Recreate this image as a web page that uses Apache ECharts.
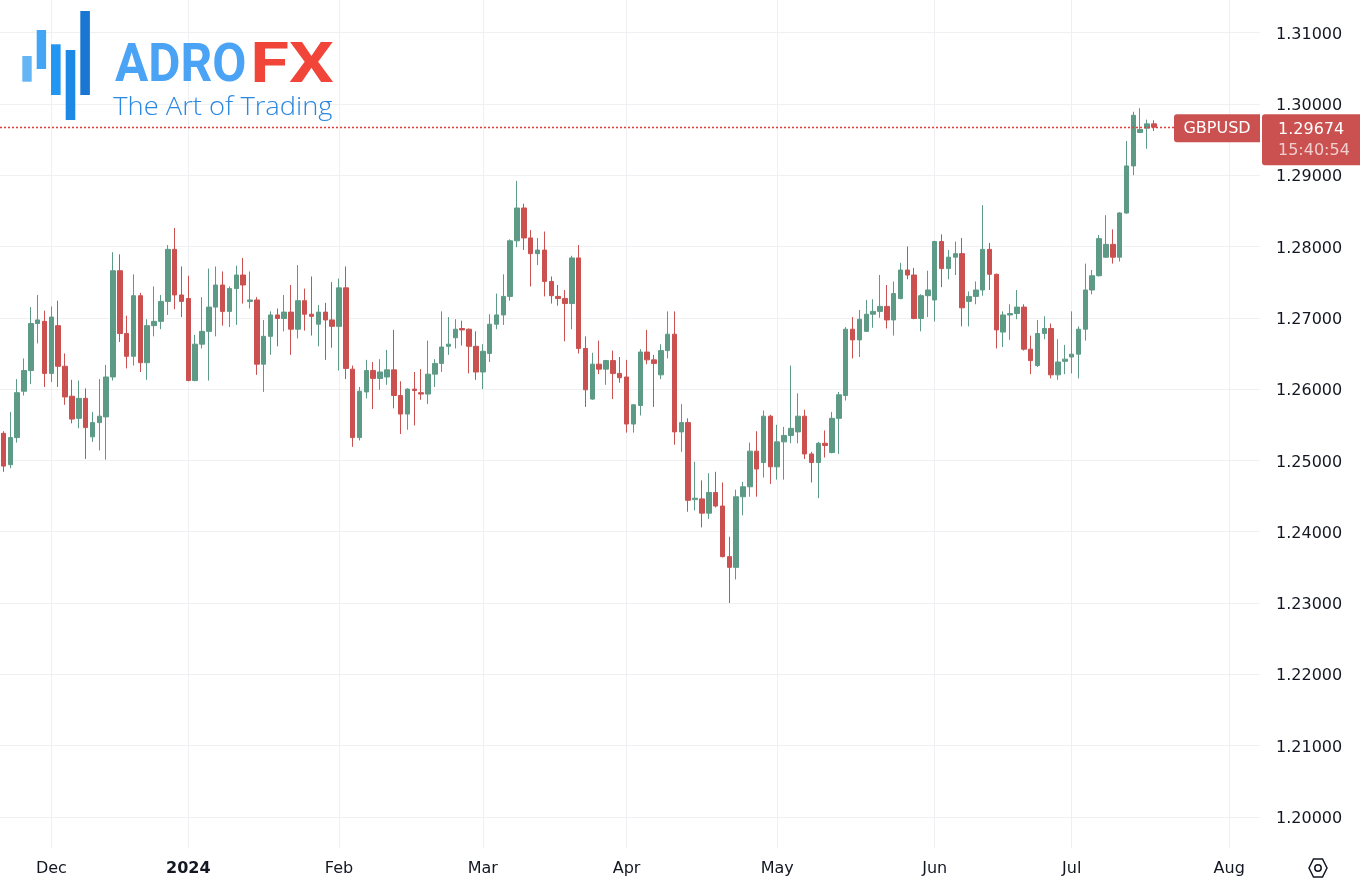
<!DOCTYPE html>
<html>
<head>
<meta charset="utf-8">
<script src="https://cdn.jsdelivr.net/npm/echarts@6/dist/echarts.min.js"></script>
<style>
html,body{margin:0;padding:0;background:#ffffff;}
#chart{width:1360px;height:888px;}
</style>
</head>
<body>
<div id="chart"></div>
<script>
// ---------- DATA (GBPUSD daily) ----------
const firstDate = '2023-11-22';
const holidays = ['2023-12-25', '2024-01-01'];
const slotCount = 184; // trading-day slots on the time axis (incl. empty future)
const monthNames = ['Jan','Feb','Mar','Apr','May','Jun','Jul','Aug','Sep','Oct','Nov','Dec'];

const opens = [
1.2538,1.2494,1.2532,1.2597,1.2626,1.2692,1.2695,1.2622,1.2689,1.2632,
1.2590,1.2559,1.2587,1.2533,1.2553,1.2561,1.2617,1.2766,1.2678,1.2646,
1.2731,1.2637,1.2689,1.2695,1.2723,1.2796,1.2732,1.2727,1.2612,1.2663,
1.2681,1.2715,1.2746,1.2709,1.2741,1.2760,1.2723,1.2725,1.2635,1.2674,
1.2704,1.2699,1.2708,1.2684,1.2724,1.2705,1.2691,1.2708,1.2697,1.2688,
1.2742,1.2628,1.2532,1.2596,1.2626,1.2615,1.2617,1.2627,1.2591,1.2565,
1.2600,1.2595,1.2593,1.2621,1.2636,1.2660,1.2672,1.2685,1.2684,1.2660,
1.2624,1.2650,1.2691,1.2704,1.2730,1.2808,1.2854,1.2812,1.2790,1.2795,
1.2751,1.2730,1.2727,1.2720,1.2784,1.2657,1.2586,1.2635,1.2628,1.2640,
1.2622,1.2617,1.2551,1.2577,1.2652,1.2641,1.2620,1.2654,1.2677,1.2540,
1.2553,1.2445,1.2446,1.2426,1.2455,1.2436,1.2365,1.2350,1.2449,1.2463,
1.2513,1.2497,1.2562,1.2491,1.2526,1.2535,1.2540,1.2562,1.2509,1.2497,
1.2524,1.2511,1.2559,1.2591,1.2684,1.2669,1.2681,1.2705,1.2709,1.2716,
1.2697,1.2727,1.2767,1.2760,1.2699,1.2731,1.2725,1.2807,1.2769,1.2785,
1.2790,1.2723,1.2730,1.2739,1.2796,1.2761,1.2680,1.2704,1.2706,1.2715,
1.2656,1.2633,1.2678,1.2685,1.2620,1.2639,1.2645,1.2649,1.2684,1.2739,
1.2759,1.2785,1.2803,1.2785,1.2847,1.2913,1.2960,1.2966,1.2972
];
const highs = [
1.2541,1.2568,1.2614,1.2643,1.2715,1.2732,1.2710,1.2716,1.2724,1.2650,
1.2613,1.2612,1.2601,1.2568,1.2614,1.2634,1.2792,1.2789,1.2703,1.2761,
1.2735,1.2698,1.2744,1.2732,1.2802,1.2826,1.2772,1.2759,1.2676,1.2729,
1.2769,1.2772,1.2765,1.2744,1.2773,1.2784,1.2765,1.2729,1.2697,1.2709,
1.2713,1.2732,1.2746,1.2774,1.2741,1.2758,1.2718,1.2721,1.2750,1.2755,
1.2772,1.2633,1.2603,1.2641,1.2638,1.2642,1.2655,1.2683,1.2611,1.2601,
1.2624,1.2628,1.2668,1.2642,1.2709,1.2701,1.2698,1.2696,1.2685,1.2681,
1.2663,1.2705,1.2734,1.2761,1.2810,1.2892,1.2860,1.2823,1.2812,1.2821,
1.2758,1.2746,1.2739,1.2787,1.2802,1.2674,1.2651,1.2668,1.2641,1.2654,
1.2645,1.2641,1.2579,1.2656,1.2683,1.2648,1.2663,1.2709,1.2709,1.2579,
1.2559,1.2498,1.2472,1.2482,1.2484,1.2469,1.2393,1.2459,1.2470,1.2525,
1.2541,1.2570,1.2564,1.2550,1.2547,1.2633,1.2594,1.2571,1.2512,1.2526,
1.2542,1.2568,1.2596,1.2687,1.2701,1.2711,1.2725,1.2726,1.2760,1.2746,
1.2751,1.2777,1.2800,1.2770,1.2733,1.2766,1.2808,1.2817,1.2795,1.2807,
1.2812,1.2737,1.2751,1.2858,1.2805,1.2762,1.2709,1.2719,1.2739,1.2719,
1.2675,1.2697,1.2702,1.2692,1.2670,1.2662,1.2709,1.2688,1.2776,1.2767,
1.2816,1.2844,1.2824,1.2848,1.2948,1.2989,1.2994,1.2978,1.2977
];
const lows = [
1.2484,1.2489,1.2525,1.2591,1.2607,1.2664,1.2603,1.2610,1.2603,1.2578,
1.2552,1.2545,1.2502,1.2526,1.2514,1.2501,1.2612,1.2666,1.2629,1.2633,
1.2624,1.2613,1.2674,1.2684,1.2704,1.2712,1.2701,1.2611,1.2611,1.2657,
1.2612,1.2674,1.2689,1.2687,1.2690,1.2720,1.2713,1.2620,1.2596,1.2648,
1.2660,1.2681,1.2648,1.2671,1.2682,1.2675,1.2660,1.2641,1.2658,1.2626,
1.2614,1.2519,1.2528,1.2587,1.2572,1.2599,1.2606,1.2573,1.2537,1.2543,
1.2549,1.2585,1.2579,1.2603,1.2624,1.2648,1.2657,1.2661,1.2622,1.2613,
1.2600,1.2638,1.2684,1.2690,1.2724,1.2799,1.2795,1.2744,1.2774,1.2730,
1.2720,1.2717,1.2667,1.2684,1.2650,1.2575,1.2585,1.2621,1.2606,1.2586,
1.2609,1.2539,1.2539,1.2563,1.2635,1.2575,1.2614,1.2643,1.2522,1.2512,
1.2428,1.2430,1.2406,1.2418,1.2434,1.2364,1.2300,1.2333,1.2423,1.2449,
1.2449,1.2476,1.2467,1.2473,1.2473,1.2524,1.2524,1.2502,1.2469,1.2447,
1.2504,1.2510,1.2509,1.2584,1.2643,1.2645,1.2680,1.2686,1.2700,1.2685,
1.2675,1.2726,1.2754,1.2698,1.2681,1.2701,1.2695,1.2743,1.2754,1.2760,
1.2688,1.2688,1.2719,1.2731,1.2739,1.2657,1.2659,1.2669,1.2698,1.2654,
1.2621,1.2631,1.2670,1.2615,1.2613,1.2621,1.2622,1.2615,1.2668,1.2733,
1.2758,1.2784,1.2776,1.2779,1.2846,1.2900,1.2959,1.2937,1.2962
];
const closes = [
1.2492,1.2532,1.2595,1.2626,1.2692,1.2697,1.2622,1.2701,1.2632,1.2589,
1.2558,1.2587,1.2546,1.2553,1.2562,1.2617,1.2766,1.2678,1.2646,1.2731,
1.2637,1.2689,1.2695,1.2723,1.2796,1.2732,1.2723,1.2612,1.2663,1.2681,
1.2715,1.2746,1.2709,1.2741,1.2760,1.2746,1.2725,1.2635,1.2674,1.2704,
1.2699,1.2708,1.2684,1.2724,1.2705,1.2702,1.2708,1.2697,1.2688,1.2742,
1.2629,1.2532,1.2597,1.2626,1.2615,1.2624,1.2627,1.2591,1.2565,1.2600,
1.2598,1.2593,1.2621,1.2636,1.2659,1.2663,1.2684,1.2683,1.2660,1.2624,
1.2653,1.2691,1.2704,1.2730,1.2808,1.2854,1.2812,1.2790,1.2795,1.2751,
1.2731,1.2727,1.2720,1.2784,1.2657,1.2599,1.2635,1.2628,1.2640,1.2622,
1.2616,1.2551,1.2578,1.2652,1.2641,1.2636,1.2654,1.2677,1.2540,1.2553,
1.2444,1.2447,1.2426,1.2455,1.2436,1.2365,1.2350,1.2449,1.2463,1.2513,
1.2488,1.2562,1.2491,1.2526,1.2535,1.2545,1.2562,1.2509,1.2497,1.2524,
1.2521,1.2559,1.2592,1.2684,1.2669,1.2698,1.2705,1.2709,1.2716,1.2697,
1.2734,1.2767,1.2760,1.2699,1.2731,1.2739,1.2807,1.2769,1.2785,1.2790,
1.2714,1.2730,1.2739,1.2796,1.2761,1.2683,1.2704,1.2706,1.2715,1.2656,
1.2640,1.2678,1.2685,1.2620,1.2638,1.2642,1.2649,1.2684,1.2739,1.2759,
1.2811,1.2803,1.2785,1.2847,1.2913,1.2984,1.2964,1.2972,1.29674
];
const symbolName = 'GBPUSD';
const countdownText = '15:40:54';
const logoWord1 = 'ADRO';
const logoWord2 = 'FX';
const logoTagline = 'The Art of Trading';

// ---------- STYLE ----------
const UP = '#5d9b87';
const DOWN = '#cb5151';
const PRICE_LINE = '#e23b3b';
const GRID = '#eef0f3';
const TXT = '#131722';
const FONT = '"DejaVu Sans", sans-serif';

// trading-day categories (weekdays, skipping holidays)
const dates = [];
(function () {
  const d = new Date(firstDate + 'T00:00:00Z');
  while (dates.length < slotCount) {
    const dow = d.getUTCDay();
    const s = d.toISOString().slice(0, 10);
    if (dow !== 0 && dow !== 6 && holidays.indexOf(s) < 0) dates.push(s);
    d.setUTCDate(d.getUTCDate() + 1);
  }
})();
function isMonthStart(i) {
  return i > 0 && dates[i].slice(0, 7) !== dates[i - 1].slice(0, 7);
}
const candles = opens.map((o, i) => [o, closes[i], lows[i], highs[i]]);
const lastClose = closes[closes.length - 1];

const chart = echarts.init(document.getElementById('chart'), null, { renderer: 'canvas' });
const option = {
  animation: false,
  backgroundColor: '#ffffff',
  textStyle: { fontFamily: FONT },
  grid: { left: -1.3, right: 100, top: 0, bottom: 40, containLabel: false },
  xAxis: {
    type: 'category',
    data: dates,
    boundaryGap: true,
    axisLine: { show: false },
    axisTick: { show: false },
    axisLabel: {
      interval: (i) => isMonthStart(i),
      margin: 13,
      color: TXT,
      fontFamily: FONT,
      fontSize: 16,
      formatter: (v) => {
        const m = +v.slice(5, 7);
        return m === 1 ? '{y|' + v.slice(0, 4) + '}' : monthNames[m - 1];
      },
      rich: { y: { fontWeight: 'bold', fontFamily: FONT, fontSize: 16, color: TXT } }
    },
    splitLine: {
      show: true,
      interval: (i) => isMonthStart(i),
      alignWithLabel: true,
      lineStyle: { color: GRID, width: 1 }
    }
  },
  yAxis: {
    type: 'value',
    position: 'right',
    min: 1.195638,
    max: 1.314572,
    splitNumber: 12,
    minInterval: 0.01,
    maxInterval: 0.01,
    axisLine: { show: false },
    axisTick: { show: false },
    axisLabel: {
      margin: 16,
      color: TXT,
      fontFamily: FONT,
      fontSize: 16,
      verticalAlign: 'top',
      lineHeight: 4,
      formatter: (v) => (Math.abs(v * 100 - Math.round(v * 100)) < 1e-6 ? v.toFixed(5) : '')
    },
    splitLine: { show: true, showMinLine: false, showMaxLine: false, lineStyle: { color: GRID, width: 1 } }
  },
  series: [{
    type: 'candlestick',
    data: candles,
    barWidth: 5,
    itemStyle: {
      color: UP, color0: DOWN,
      borderColor: UP, borderColor0: DOWN,
      borderColorDoji: UP,
      borderWidth: 1
    }
  }]
};
chart.setOption(option);

// ---------- overlays (logo + last-price line and labels) ----------
const mctx = document.createElement('canvas').getContext('2d');
function fitText(text, font, fill, x0, y0, x1, y1) {
  mctx.font = font;
  mctx.textBaseline = 'middle';
  mctx.textAlign = 'left';
  const m = mctx.measureText(text);
  const w = m.actualBoundingBoxLeft + m.actualBoundingBoxRight;
  const h = m.actualBoundingBoxAscent + m.actualBoundingBoxDescent;
  const sx = (x1 - x0) / w, sy = (y1 - y0) / h;
  return {
    type: 'text', z: 5,
    x: x0 + sx * m.actualBoundingBoxLeft,
    y: y0 + sy * m.actualBoundingBoxAscent,
    scaleX: sx, scaleY: sy,
    style: { text: text, x: 0, y: 0, font: font, fill: fill, align: 'left', verticalAlign: 'middle', textAlign: 'left', textVerticalAlign: 'middle' }
  };
}
const logoBars = [
  [22.3, 56, 9.4, 25.7, '#64b5f6'],
  [36.7, 30, 9.4, 39, '#42a5f5'],
  [51, 44.3, 9.6, 50.7, '#2196f3'],
  [65.7, 50, 9.6, 70, '#1e88e5'],
  [80.3, 11, 9.6, 84, '#1976d2']
];
const yPx = chart.convertToPixel({ yAxisIndex: 0 }, lastClose);
const lineY = Math.round(yPx) + 0.5;
const graphics = [];
logoBars.forEach((b) => graphics.push({ type: 'rect', z: 5, shape: { x: b[0], y: b[1], width: b[2], height: b[3] }, style: { fill: b[4] } }));
graphics.push(fitText(logoWord1, 'bold 56px Roboto', '#4ba3f5', 115, 41.7, 245, 81.7));
graphics.push(fitText(logoWord2, 'bold 56px Roboto', '#f2453a', 254, 41.7, 333, 81.7));
graphics.push(fitText(logoTagline, '300 28px "Open Sans"', '#2a88e0', 113.3, 95.5, 333, 121.7));

// dotted last-price line
graphics.push({ type: 'line', z: 15, silent: true, shape: { x1: 0, y1: lineY, x2: 1174, y2: lineY }, style: { stroke: PRICE_LINE, lineWidth: 1.3, lineDash: [2, 2] } });

graphics.push({ type: 'rect', z: 20, shape: { x: 1174, y: yPx - 13, width: 86, height: 28, r: [3, 0, 0, 3] }, style: { fill: DOWN } });
graphics.push({ type: 'text', z: 21, style: { text: symbolName, x: 1217, y: yPx + 2, font: '16px ' + FONT, fill: '#ffffff', align: 'center', verticalAlign: 'middle', textAlign: 'center', textVerticalAlign: 'middle' } });
graphics.push({ type: 'rect', z: 20, shape: { x: 1262, y: yPx - 13, width: 98, height: 51, r: [3, 0, 0, 3] }, style: { fill: DOWN } });
graphics.push({ type: 'text', z: 21, style: { text: lastClose.toFixed(5), x: 1278, y: yPx + 3, font: '16px ' + FONT, fill: '#ffffff', align: 'left', verticalAlign: 'middle', textAlign: 'left', textVerticalAlign: 'middle' } });
graphics.push({ type: 'text', z: 21, style: { text: countdownText, x: 1278, y: yPx + 24, font: '16px ' + FONT, fill: 'rgba(255,255,255,0.72)', align: 'left', verticalAlign: 'middle', textAlign: 'left', textVerticalAlign: 'middle' } });

// settings hexagon icon (bottom-right)
const cx = 1318, cy = 868;
graphics.push({ type: 'polygon', z: 5, shape: { points: [[cx - 9, cy], [cx - 4.5, cy - 9], [cx + 4.5, cy - 9], [cx + 9, cy], [cx + 4.5, cy + 9], [cx - 4.5, cy + 9]] }, style: { fill: 'none', stroke: TXT, lineWidth: 1.5 } });
graphics.push({ type: 'circle', z: 5, shape: { cx: cx, cy: cy, r: 3.2 }, style: { fill: 'none', stroke: TXT, lineWidth: 1.5 } });

chart.setOption({ graphic: graphics });
</script>
</body>
</html>
